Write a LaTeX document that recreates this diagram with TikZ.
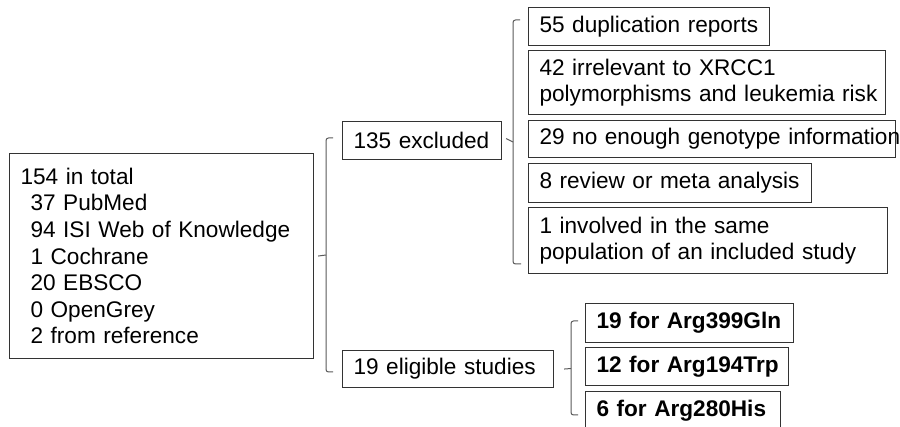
\documentclass[tikz,border=0pt]{standalone}
\usepackage{fontspec}
\setmainfont{Liberation Sans}
\newcommand\myfs{\fontsize{22.6}{26.6}\selectfont}
\begin{document}
\begin{tikzpicture}[x=1pt,y=-1pt,
  box/.style={draw=black!80, line width=1.1pt, anchor=north west, align=left,
    inner xsep=11pt, inner ysep=0pt, font=\myfs},
  brk/.style={draw=black!65, line width=1pt, rounded corners=2.5pt}]
\useasboundingbox (0,0) rectangle (900,427);
% left box
\node[box, minimum width=304pt, minimum height=205pt, text width=282pt] (total) at (9,153)
 {154 in total\\\hspace*{10pt}37 PubMed\\\hspace*{10pt}94 ISI Web of Knowledge\\\hspace*{10pt}1 Cochrane\\\hspace*{10pt}20 EBSCO\\\hspace*{10pt}0 OpenGrey\\\hspace*{10pt}2 from reference};
% middle
\node[box, minimum width=159pt, minimum height=38pt, text width=137pt] (ex) at (342,121) {\mbox{135 excluded}};
\node[box, minimum width=211pt, minimum height=37pt, text width=189pt] (el) at (342,350) {\mbox{19 eligible studies}};
% right excluded reasons
\node[box, minimum width=241pt, minimum height=38pt, text width=219pt] (r1) at (528,7) {\mbox{55 duplication reports}};
\node[box, minimum width=357pt, minimum height=64pt, text width=335pt] (r2) at (528,50) {\mbox{42 irrelevant to XRCC1}\\\mbox{polymorphisms and leukemia risk}};
\node[box, minimum width=367pt, minimum height=37pt, text width=345pt] (r3) at (528,120) {\mbox{29 no enough genotype information}};
\node[box, minimum width=283pt, minimum height=39pt, text width=261pt] (r4) at (528,163) {\mbox{8 review or meta analysis}};
\node[box, minimum width=359pt, minimum height=66pt, text width=337pt] (r5) at (528,207) {\mbox{1 involved in the same}\\\mbox{population of an included study}};
% right eligible
\node[box, minimum width=208pt, minimum height=39pt, text width=186pt, font=\myfs\bfseries] (b1) at (585,303) {\mbox{19 for Arg399Gln}};
\node[box, minimum width=203pt, minimum height=38pt, text width=181pt, font=\myfs\bfseries] (b2) at (585,347) {\mbox{12 for Arg194Trp}};
\node[box, minimum width=195pt, minimum height=39pt, text width=173pt, font=\myfs\bfseries] (b3) at (585,391) {\mbox{6 for Arg280His}};
% main bracket
\coordinate (mt) at (333,138);
\coordinate (mb) at (333,372);
\draw[brk] (mt) -- (326,138) -- (326,372) -- (mb);
\draw[brk] ([xshift=4pt]total.east) -- (326,255);
% excluded bracket
\coordinate (et) at (520,20);
\coordinate (eb) at (521,264);
\draw[brk] (et) -- (513,20) -- (513,264) -- (eb);
\draw[brk] ([xshift=4pt,yshift=2pt]ex.east) -- (513,142);
% eligible bracket
\coordinate (lt) at (578,321);
\coordinate (lb) at (578,415);
\draw[brk] (lt) -- (571,321) -- (571,415) -- (lb);
\draw[brk] ([xshift=10pt]el.east) -- (571,368.5);
\end{tikzpicture}
\end{document}
